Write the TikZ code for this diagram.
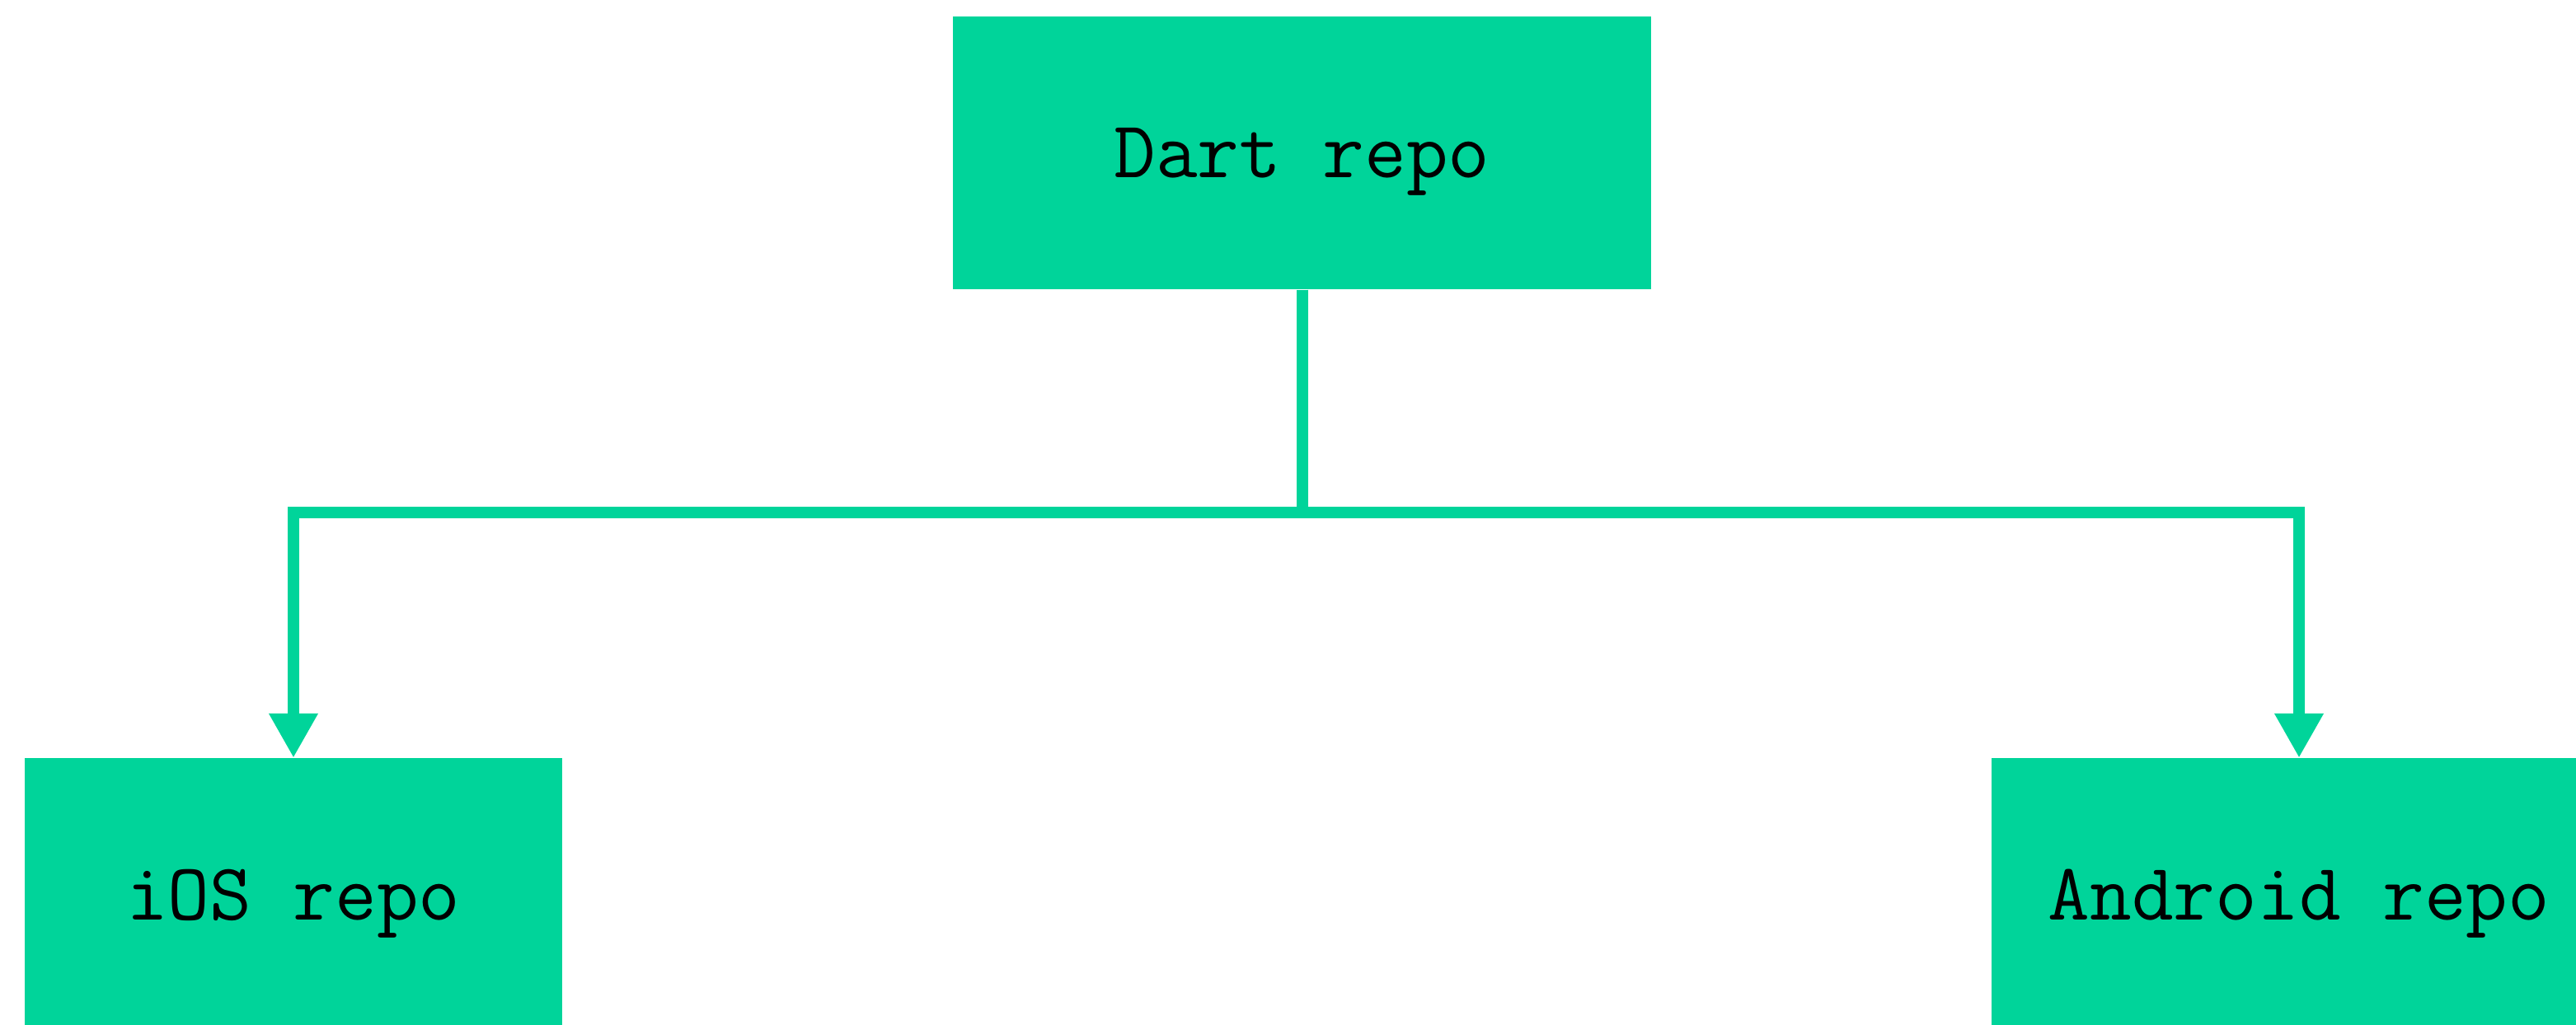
\documentclass[tikz,border=0pt]{standalone}
\usepackage{xcolor}
\usepackage{tikz}
\usetikzlibrary{arrows.meta, positioning}
\definecolor{repogreen}{HTML}{00D49A}

\begin{document}
\begin{tikzpicture}[
    repo/.style={rectangle, fill=repogreen, inner sep=0pt, minimum height=3.31cm,
        text depth=0pt, font=\ttfamily\fontsize{28}{32}\selectfont},
    link/.style={draw=repogreen, line width=0.14cm, -{Triangle[length=0.54cm, width=0.56cm]}}
]
    % Page frame, lower boxes run past its edges
    \clip (0,0) rectangle (31.25,12.44);
    \useasboundingbox (0,0) rectangle (31.25,12.44);
    \node[repo, minimum width=8.47cm] (dart) at (15.795,10.585) {Dart repo};
    \node[repo, minimum width=6.52cm] (ios) at (3.56,1.58) {iOS repo};
    \node[repo, minimum width=7.46cm] (android) at (27.89,1.58) {Android repo};
    \coordinate (fork) at (15.795,6.22);
    \draw[link] (dart.south) -- (fork) -| (ios.north);
    \draw[link] (dart.south) -- (fork) -| (android.north);
\end{tikzpicture}
\end{document}
